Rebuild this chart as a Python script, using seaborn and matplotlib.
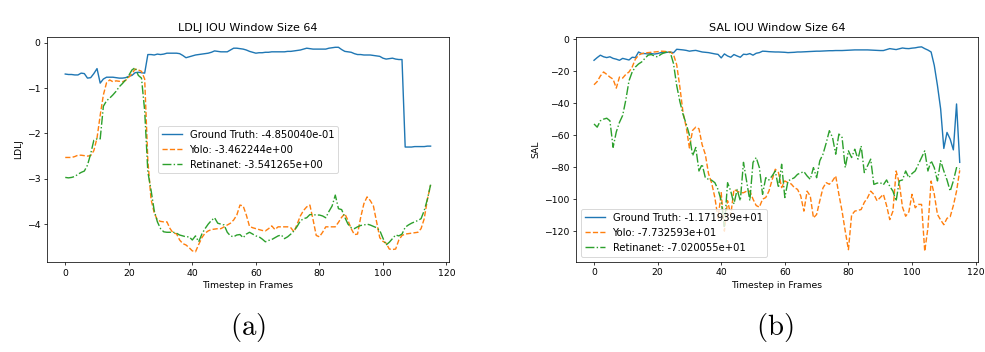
import numpy as np
import seaborn as sns
import matplotlib
matplotlib.use('Agg')
import matplotlib.pyplot as plt

# Timesteps
frames = np.arange(116)

# LDLJ values
ldlj_gt = [-0.69, -0.70, -0.70, -0.71, -0.71, -0.67, -0.68, -0.78, -0.77, -0.68,
           -0.57, -0.89, -0.80, -0.76, -0.76, -0.76, -0.77, -0.78, -0.78, -0.77,
           -0.74, -0.72, -0.66, -0.65, -0.66, -0.67, -0.26, -0.26, -0.27, -0.25,
           -0.26, -0.25, -0.23, -0.23, -0.23, -0.23, -0.24, -0.28, -0.33, -0.31,
           -0.29, -0.27, -0.26, -0.25, -0.24, -0.23, -0.21, -0.18, -0.19, -0.20,
           -0.20, -0.20, -0.16, -0.12, -0.12, -0.13, -0.14, -0.16, -0.19, -0.21,
           -0.23, -0.22, -0.22, -0.21, -0.21, -0.20, -0.20, -0.20, -0.20, -0.20,
           -0.19, -0.19, -0.18, -0.17, -0.16, -0.14, -0.12, -0.13, -0.14, -0.14,
           -0.14, -0.14, -0.14, -0.12, -0.11, -0.10, -0.10, -0.15, -0.19, -0.20,
           -0.21, -0.24, -0.26, -0.26, -0.27, -0.27, -0.27, -0.28, -0.29, -0.30,
           -0.34, -0.36, -0.35, -0.34, -0.36, -0.37, -0.37, -2.30, -2.30, -2.30,
           -2.29, -2.29, -2.29, -2.29, -2.28, -2.28]
ldlj_yolo = [-2.53, -2.53, -2.53, -2.51, -2.48, -2.48, -2.49, -2.50, -2.49, -2.38,
             -2.10, -1.60, -1.15, -0.88, -0.82, -0.86, -0.84, -0.85, -0.86, -0.83,
             -0.76, -0.68, -0.58, -0.60, -0.63, -0.80, -2.60, -3.45, -3.75, -3.91,
             -3.94, -3.95, -3.95, -4.10, -4.20, -4.21, -4.35, -4.43, -4.46, -4.52,
             -4.59, -4.61, -4.45, -4.30, -4.20, -4.15, -4.12, -4.11, -4.10, -4.10,
             -4.06, -4.02, -3.98, -3.91, -3.80, -3.58, -3.60, -3.80, -4.05, -4.08,
             -4.10, -4.12, -4.14, -4.15, -4.10, -4.04, -4.12, -4.06, -4.06, -4.06,
             -4.06, -4.08, -4.17, -4.00, -3.82, -3.70, -3.62, -3.58, -3.90, -4.25,
             -4.28, -4.18, -4.06, -4.06, -4.06, -4.06, -3.96, -3.85, -3.77, -3.92,
             -4.10, -4.23, -4.22, -3.85, -3.55, -3.40, -3.48, -3.60, -3.95, -4.30,
             -4.38, -4.42, -4.55, -4.56, -4.55, -4.35, -4.25, -4.22, -4.21, -4.20,
             -4.19, -4.18, -4.10, -3.88, -3.45, -3.14]
ldlj_retina = [-2.97, -2.98, -2.97, -2.95, -2.90, -2.86, -2.83, -2.70, -2.45, -2.15,
               -2.12, -2.12, -1.40, -1.28, -1.22, -1.15, -1.07, -0.97, -0.90, -0.82,
               -0.72, -0.60, -0.55, -0.72, -0.78, -1.50, -2.85, -3.25, -3.70, -3.95,
               -4.10, -4.17, -4.18, -4.18, -4.18, -4.20, -4.24, -4.26, -4.28, -4.28,
               -4.35, -4.26, -4.39, -4.22, -4.10, -4.00, -3.92, -3.86, -3.98, -4.00,
               -4.02, -4.18, -4.26, -4.28, -4.24, -4.23, -4.30, -4.22, -4.18, -4.22,
               -4.26, -4.28, -4.33, -4.39, -4.36, -4.34, -4.30, -4.26, -4.24, -4.32,
               -4.28, -4.22, -4.15, -4.05, -3.93, -3.88, -3.86, -3.79, -3.79, -3.80,
               -3.80, -3.82, -3.86, -3.72, -3.60, -3.36, -3.66, -3.68, -3.85, -4.00,
               -4.08, -4.10, -4.06, -4.03, -4.02, -4.00, -4.02, -4.05, -4.08, -4.14,
               -4.31, -4.46, -4.40, -4.32, -4.24, -4.26, -4.22, -4.07, -4.02, -3.98,
               -3.95, -3.92, -3.88, -3.70, -3.45, -3.13]

# SAL values
sal_gt = [-13.2, -11.5, -10.0, -11.0, -11.5, -11.0, -12.0, -12.5, -13.2, -12.0,
          -12.5, -13.0, -11.3, -11.5, -8.0, -9.0, -9.0, -9.2, -9.0, -9.3,
          -9.0, -8.4, -8.5, -8.2, -8.0, -8.5, -6.3, -6.5, -6.7, -7.0,
          -7.5, -7.2, -7.0, -7.5, -8.0, -8.2, -8.4, -8.8, -9.2, -9.5,
          -11.7, -9.2, -10.5, -11.3, -9.6, -10.5, -11.3, -9.4, -9.6, -9.0,
          -10.0, -8.8, -8.4, -7.5, -7.6, -7.8, -7.9, -8.0, -8.0, -8.1,
          -8.2, -8.4, -8.3, -8.2, -8.0, -8.0, -7.9, -7.8, -7.7, -7.6,
          -7.5, -7.5, -7.4, -7.3, -7.2, -7.2, -7.1, -7.1, -7.1, -7.0,
          -6.9, -6.8, -6.7, -6.7, -6.7, -6.7, -6.7, -6.8, -6.9, -7.0,
          -7.1, -7.1, -6.5, -5.9, -6.2, -6.5, -6.0, -5.5, -5.8, -5.9,
          -5.6, -5.4, -5.0, -4.8, -5.9, -6.8, -8.0, -16.4, -29.0, -43.6,
          -68.3, -58.3, -62.5, -69.2, -40.5, -77.0]
sal_yolo = [-28.5, -26.5, -23.0, -20.5, -22.0, -23.7, -25.0, -30.6, -23.7, -24.3,
            -22.0, -20.5, -17.4, -12.5, -10.0, -9.0, -8.6, -8.4, -8.2, -8.0,
            -7.8, -7.5, -7.6, -7.8, -8.0, -9.6, -16.0, -30.0, -46.0, -55.0,
            -68.0, -57.0, -55.0, -56.0, -66.0, -72.0, -84.0, -90.0, -99.0, -112.0,
            -96.0, -120.0, -101.0, -110.0, -94.0, -95.0, -96.0, -96.0, -95.0, -95.0,
            -100.0, -104.0, -105.0, -100.0, -99.0, -95.0, -88.0, -81.3, -83.4, -92.8,
            -88.6, -89.7, -90.5, -92.8, -93.9, -98.0, -107.5, -95.0, -98.0, -111.7,
            -109.6, -101.0, -93.0, -89.7, -90.7, -88.6, -85.5, -97.0, -107.5, -120.0,
            -131.6, -110.0, -107.5, -107.0, -106.5, -102.0, -99.2, -95.0, -97.0, -101.0,
            -99.0, -97.0, -104.0, -112.8, -107.5, -82.4, -90.0, -105.0, -110.7, -108.0,
            -97.0, -105.4, -103.3, -103.3, -132.6, -118.0, -88.7, -97.0, -109.6, -113.0,
            -116.0, -112.0, -111.0, -104.0, -95.0, -82.0]
sal_retina = [-53.0, -55.0, -51.0, -50.0, -49.4, -51.0, -67.6, -58.0, -52.0, -47.7,
              -38.0, -26.0, -20.5, -17.4, -15.5, -14.2, -12.0, -10.0, -9.6, -10.5,
              -11.1, -9.5, -8.5, -8.0, -8.4, -15.3, -29.0, -39.0, -47.0, -53.0,
              -60.0, -72.9, -67.7, -82.4, -78.2, -86.6, -87.6, -88.2, -89.7, -94.0,
              -101.0, -117.0, -89.7, -95.0, -103.0, -94.0, -101.0, -77.0, -89.0, -101.0,
              -77.0, -74.0, -80.3, -97.0, -86.6, -88.0, -85.5, -82.4, -92.8, -78.2,
              -99.0, -88.6, -87.6, -86.6, -84.5, -83.6, -82.8, -85.5, -87.6, -80.3,
              -86.6, -76.0, -71.9, -65.0, -57.2, -61.4, -71.9, -59.3, -61.4, -80.3,
              -69.8, -74.0, -68.8, -75.0, -66.7, -83.4, -79.2, -75.0, -90.8, -90.0,
              -89.7, -91.0, -88.0, -92.0, -95.0, -101.2, -88.6, -88.0, -82.4, -86.6,
              -84.0, -82.4, -78.2, -74.0, -69.8, -82.4, -76.0, -80.3, -88.6, -76.0,
              -82.4, -88.0, -95.0, -88.6, -80.3, -81.0]

ldlj_labels = ['Ground Truth: -4.850040e-01', 'Yolo: -3.462244e+00',
               'Retinanet: -3.541265e+00']
sal_labels = ['Ground Truth: -1.171939e+01', 'Yolo: -7.732593e+01',
              'Retinanet: -7.020055e+01']

plt.rcParams['mathtext.fontset'] = 'cm'

DPI = 67
fig = plt.figure(figsize=(985 / DPI, 352 / DPI), dpi=DPI)
ax1 = fig.add_axes([0.0477, 0.2557, 0.408, 0.639])
ax2 = fig.add_axes([0.5845, 0.2571, 0.4084, 0.6388])

styles = ['-', '--', '-.']
colors = ['tab:blue', 'tab:orange', 'tab:green']

for ys, lab, ls, c in zip([ldlj_gt, ldlj_yolo, ldlj_retina], ldlj_labels, styles, colors):
    sns.lineplot(x=frames, y=ys, ax=ax1, label=lab, linestyle=ls, color=c)
ax1.set_title('LDLJ IOU Window Size 64')
ax1.set_xlabel('Timestep in Frames')
ax1.set_ylabel('LDLJ')
ax1.legend(loc='center', fontsize=10.7)

for ys, lab, ls, c in zip([sal_gt, sal_yolo, sal_retina], sal_labels, styles, colors):
    sns.lineplot(x=frames, y=ys, ax=ax2, label=lab, linestyle=ls, color=c)
ax2.set_title('SAL IOU Window Size 64')
ax2.set_xlabel('Timestep in Frames')
ax2.set_ylabel('SAL')
ax2.legend(loc='lower left', fontsize=10.7)

fig.text(0.252, 0.071, r'$\mathrm{(a)}$', fontsize=31, ha='center', va='center')
fig.text(0.787, 0.071, r'$\mathrm{(b)}$', fontsize=31, ha='center', va='center')

fig.savefig('out.png', dpi=DPI)
